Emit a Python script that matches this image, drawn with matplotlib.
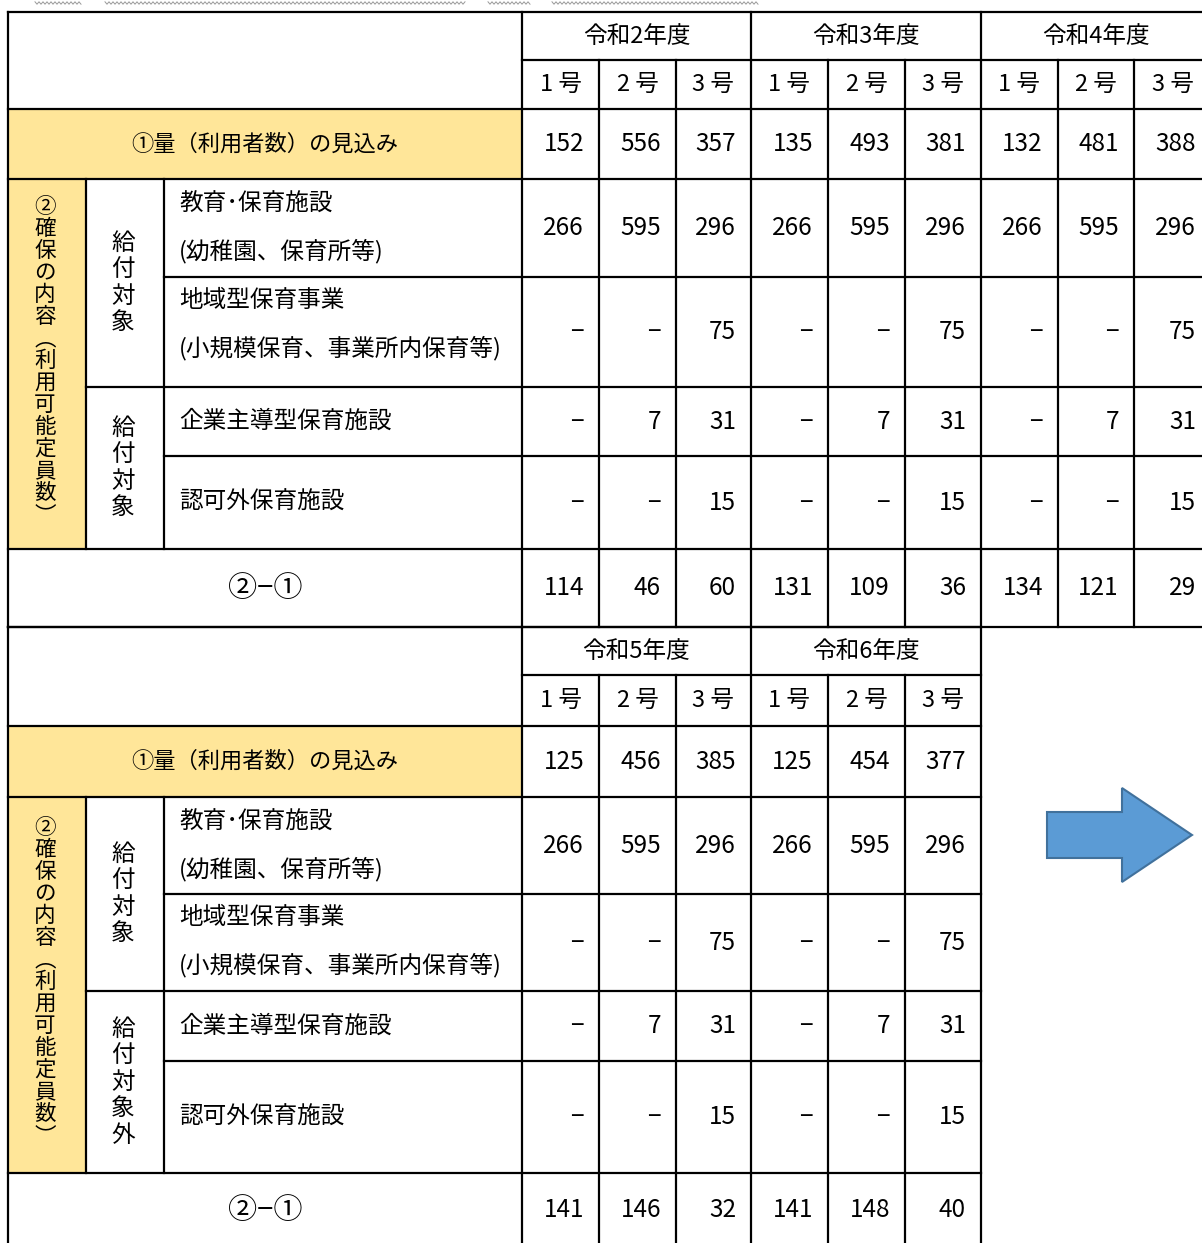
import numpy as np
import matplotlib
matplotlib.use("Agg")
import matplotlib.pyplot as plt
from matplotlib.patches import Rectangle, Polygon

plt.rcParams['font.family'] = ['Noto Sans CJK JP', 'DejaVu Sans']

# ---------------- data ----------------
years_top = ['令和2年度', '令和3年度', '令和4年度']
years_bottom = ['令和5年度', '令和6年度']
sub_headers = ['1 号', '2 号', '3 号']

demand = {
    '令和2年度': [152, 556, 357],
    '令和3年度': [135, 493, 381],
    '令和4年度': [132, 481, 388],
    '令和5年度': [125, 456, 385],
    '令和6年度': [125, 454, 377],
}
edu_facility = [266, 595, 296]
regional = ['−', '−', 75]
company = ['−', 7, 31]
unlicensed = ['−', '−', 15]
difference = {
    '令和2年度': [114, 46, 60],
    '令和3年度': [131, 109, 36],
    '令和4年度': [134, 121, 29],
    '令和5年度': [141, 146, 32],
    '令和6年度': [141, 148, 40],
}

row_demand = '①量（利用者数）の見込み'
row_diff = '②−①'
vert_main = ['②', '確', '保', 'の', '内', '容', '︵', '利', '用', '可', '能', '定', '員', '数', '︶']
vert_kyufu = ['給', '付', '対', '象']
vert_kyufu_out = ['給', '付', '対', '象', '外']
labels_edu = ['教育･保育施設', '(幼稚園、保育所等)']
labels_reg = ['地域型保育事業', '(小規模保育、事業所内保育等)']
label_company = '企業主導型保育施設'
label_unlic = '認可外保育施設'

# ---------------- layout ----------------
W, H = 1202, 1243
fig = plt.figure(figsize=(W / 100, H / 100), dpi=100)
ax = fig.add_axes([0, 0, 1, 1])
ax.set_xlim(0, W)
ax.set_ylim(H, 0)
ax.axis('off')

YELLOW = '#FFE699'
LW = 1.6
FS = 17
FSN = 17.5
col_x = [522, 599, 676, 751, 828, 905, 981, 1058, 1134, 1211]
X0, XA, XB = 8, 86, 164


def hl(y, x1, x2, lw=LW):
    ax.plot([x1, x2], [y, y], color='black', lw=lw, solid_capstyle='projecting', zorder=3)


def vl(x, y1, y2, lw=LW):
    ax.plot([x, x], [y1, y2], color='black', lw=lw, solid_capstyle='projecting', zorder=3)


def draw_table(ys, years, kyufu2, ncols):
    xr = col_x[ncols * 3]
    # yellow cells
    ax.add_patch(Rectangle((X0, ys[2]), col_x[0] - X0, ys[3] - ys[2], color=YELLOW, lw=0, zorder=1))
    ax.add_patch(Rectangle((X0, ys[3]), XA - X0, ys[7] - ys[3], color=YELLOW, lw=0, zorder=1))
    # horizontal lines
    hl(ys[0], X0, xr)
    hl(ys[1], col_x[0], xr)
    hl(ys[2], X0, xr)
    hl(ys[3], X0, xr)
    hl(ys[4], XB, xr)
    hl(ys[5], XA, xr)
    hl(ys[6], XB, xr)
    hl(ys[7], X0, xr)
    hl(ys[8], X0, xr)
    # vertical lines
    vl(X0, ys[0], ys[8])
    vl(XA, ys[3], ys[7])
    vl(XB, ys[3], ys[7])
    for k in range(ncols + 1):
        vl(col_x[k * 3], ys[0], ys[8])
    for k in range(ncols):
        vl(col_x[k * 3 + 1], ys[1], ys[8])
        vl(col_x[k * 3 + 2], ys[1], ys[8])

    # headers
    for k, yr in enumerate(years):
        cx = (col_x[k * 3] + col_x[k * 3 + 3]) / 2
        ax.text(cx, (ys[0] + ys[1]) / 2, yr, ha='center', va='center', fontsize=FS)
        for j, s in enumerate(sub_headers):
            c = (col_x[k * 3 + j] + col_x[k * 3 + j + 1]) / 2
            ax.text(c, (ys[1] + ys[2]) / 2, s, ha='center', va='center', fontsize=FS)

    # row labels
    ax.text((X0 + col_x[0]) / 2, (ys[2] + ys[3]) / 2, row_demand, ha='center', va='center', fontsize=16)
    ydiff = (ys[7] + ys[8]) / 2 if ys[8] < H else 1210
    ax.text((X0 + col_x[0]) / 2, ydiff + 1, row_diff, ha='center', va='center', fontsize=21)
    ax.text(179, ys[3] + 25, labels_edu[0], ha='left', va='center', fontsize=FS)
    ax.text(179, ys[3] + 72, labels_edu[1], ha='left', va='center', fontsize=FS)
    ax.text(179, ys[4] + 23, labels_reg[0], ha='left', va='center', fontsize=FS)
    ax.text(179, ys[4] + 71, labels_reg[1], ha='left', va='center', fontsize=FS)
    ax.text(179, (ys[5] + ys[6]) / 2, label_company, ha='left', va='center', fontsize=FS)
    ax.text(179, (ys[6] + ys[7]) / 2, label_unlic, ha='left', va='center', fontsize=FS)

    # vertical texts
    cy = (ys[3] + ys[7]) / 2 - 3
    n = len(vert_main)
    for i, ch in enumerate(vert_main):
        ax.text(45, cy + (i - (n - 1) / 2) * 22, ch, ha='center', va='center', fontsize=15.5)
    for chars, (a, b) in [(vert_kyufu, (ys[3], ys[5])), (kyufu2, (ys[5], ys[7]))]:
        m = len(chars)
        c = (a + b) / 2
        for i, ch in enumerate(chars):
            ax.text(123, c + (i - (m - 1) / 2) * 26.5, ch, ha='center', va='center', fontsize=FS)

    # values
    for k, yr in enumerate(years):
        rows = [demand[yr], edu_facility, regional, company, unlicensed, difference[yr]]
        row_idx = [2, 3, 4, 5, 6, 7]
        for vals, r in zip(rows, row_idx):
            y1, y2 = ys[r], ys[r + 1]
            yc = (y1 + y2) / 2 if y2 < H else 1210
            for j, v in enumerate(vals):
                xr_cell = col_x[k * 3 + j + 1]
                ax.text(xr_cell - 15, yc, str(v), ha='right', va='center', fontsize=FSN)


draw_table([12, 60, 109, 179, 277, 387, 456, 549, 627], years_top, vert_kyufu, 3)
draw_table([627, 675, 726, 797, 894, 991, 1061, 1173, 1260], years_bottom, vert_kyufu_out, 2)

# arrow
arrow = Polygon([[1047, 812], [1122, 812], [1122, 788], [1192, 835],
                 [1122, 882], [1122, 858], [1047, 858]], closed=True,
                facecolor='#5B9BD5', edgecolor='#41719C', lw=1.5, zorder=4)
ax.add_patch(arrow)

# faint wavy underline fragments at the top edge (decoration)
for x1, x2 in [(35, 82), (105, 465), (488, 530), (552, 758)]:
    xs = np.arange(x1, x2 + 1, 2.0)
    yy = 3 + np.where((np.arange(len(xs)) % 2) == 0, -1.2, 1.2)
    ax.plot(xs, yy, color='#999999', lw=0.7, zorder=2)

fig.savefig('out.png', dpi=100)
